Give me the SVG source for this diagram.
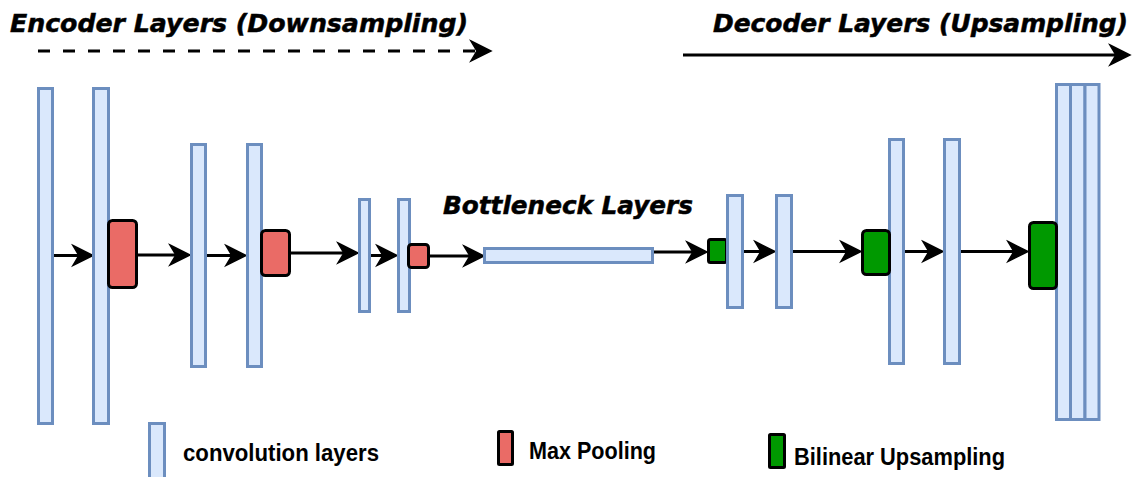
<svg xmlns="http://www.w3.org/2000/svg" width="1139" height="477" viewBox="0 0 1139 477">
<style>
.conv{fill:#dae8fc;stroke:#6c8ebf;stroke-width:3}
.pool{fill:#ea6b66;stroke:#000;stroke-width:3}
.up{fill:#009900;stroke:#000;stroke-width:3}
.edge{fill:none;stroke:#000;stroke-width:3}
.title{font-family:"DejaVu Sans",Verdana,sans-serif;font-weight:bold;font-style:italic;font-size:24px;fill:#000;stroke:#000;stroke-width:0.5}
.leg{font-family:"Liberation Sans",Arial,sans-serif;font-weight:bold;font-size:23px;fill:#000}
</style>
<defs>
<marker id="arr" markerUnits="userSpaceOnUse" viewBox="0 0 20 20" refX="6" refY="10" markerWidth="20" markerHeight="20" orient="auto" overflow="visible">
<path d="M0,0 L20,10 L0,20 L6,10 Z" fill="#000" stroke="#000" stroke-width="1.5" stroke-linejoin="miter"/>
</marker>
</defs>
<rect width="1139" height="477" fill="#fff"/>

<g id="titles">
<text class="title" x="10" y="32" textLength="458" lengthAdjust="spacingAndGlyphs">Encoder Layers (Downsampling)</text>
<text class="title" x="713" y="32" textLength="415" lengthAdjust="spacingAndGlyphs">Decoder Layers (Upsampling)</text>
<text class="title" x="443" y="214" textLength="250" lengthAdjust="spacingAndGlyphs">Bottleneck Layers</text>
</g>

<g id="connectors">
<path class="edge" d="M38,51 H477" stroke-dasharray="12 13" marker-end="url(#arr)"/>
<path class="edge" d="M683,55 H1116" marker-end="url(#arr)"/>
<path class="edge" d="M53,255.5 H79" marker-end="url(#arr)"/>
<path class="edge" d="M138,255 H176" marker-end="url(#arr)"/>
<path class="edge" d="M207,255.5 H232" marker-end="url(#arr)"/>
<path class="edge" d="M291,253 H344" marker-end="url(#arr)"/>
<path class="edge" d="M371,255.5 H383" marker-end="url(#arr)"/>
<path class="edge" d="M430,256 H470" marker-end="url(#arr)"/>
<path class="edge" d="M654,252 H693" marker-end="url(#arr)"/>
<path class="edge" d="M744,251.5 H761" marker-end="url(#arr)"/>
<path class="edge" d="M793,251.5 H847" marker-end="url(#arr)"/>
<path class="edge" d="M905,251.5 H929" marker-end="url(#arr)"/>
<path class="edge" d="M961,251.5 H1014" marker-end="url(#arr)"/>
</g>

<g id="enc-conv1"><rect class="conv" x="38.5" y="88.5" width="14" height="335"/></g>
<g id="enc-conv2"><rect class="conv" x="93.5" y="88.5" width="15" height="335"/></g>
<g id="enc-pool1"><rect class="pool" x="108.5" y="220.5" width="28" height="67" rx="4"/></g>
<g id="enc-conv3"><rect class="conv" x="191.5" y="144.5" width="14" height="222"/></g>
<g id="enc-conv4"><rect class="conv" x="247.5" y="144.5" width="14" height="222"/></g>
<g id="enc-pool2"><rect class="pool" x="261.5" y="230.5" width="28" height="45" rx="4"/></g>
<g id="enc-conv5"><rect class="conv" x="359.5" y="199.5" width="10" height="112"/></g>
<g id="enc-conv6"><rect class="conv" x="398.5" y="199.5" width="11" height="112"/></g>
<g id="enc-pool3"><rect class="pool" x="408.5" y="244.5" width="20" height="23" rx="3"/></g>

<g id="bottleneck"><rect class="conv" x="484.5" y="248.5" width="168" height="14"/></g>

<g id="dec-up1"><rect class="up" x="708.5" y="239.5" width="18" height="23" rx="2"/></g>
<g id="dec-conv1"><rect class="conv" x="727.5" y="195.5" width="15" height="112"/></g>
<g id="dec-conv2"><rect class="conv" x="776.5" y="195.5" width="15" height="112"/></g>
<g id="dec-conv3"><rect class="conv" x="889.5" y="139.5" width="14" height="224"/></g>
<g id="dec-up2"><rect class="up" x="862.5" y="230.5" width="27" height="44" rx="4"/></g>
<g id="dec-conv4"><rect class="conv" x="944.5" y="139.5" width="15" height="224"/></g>
<g id="dec-conv5"><rect class="conv" x="1056.5" y="84.5" width="14" height="335"/></g>
<g id="dec-conv6"><rect class="conv" x="1070.5" y="84.5" width="14.5" height="335"/></g>
<g id="dec-conv7"><rect class="conv" x="1085" y="84.5" width="14" height="335"/></g>
<g id="dec-up3"><rect class="up" x="1029.5" y="222.5" width="27" height="66" rx="4"/></g>

<g id="legend-conv">
<rect class="conv" x="149.5" y="423.5" width="15" height="60"/>
<text class="leg" x="183" y="461" textLength="196" lengthAdjust="spacingAndGlyphs">convolution layers</text>
</g>
<g id="legend-pool">
<rect class="pool" x="498.5" y="431.5" width="14" height="33" rx="1"/>
<text class="leg" x="529" y="459" textLength="127" lengthAdjust="spacingAndGlyphs">Max Pooling</text>
</g>
<g id="legend-up">
<rect class="up" x="769.5" y="434.5" width="15" height="33" rx="1"/>
<text class="leg" x="794" y="465" textLength="211" lengthAdjust="spacingAndGlyphs">Bilinear Upsampling</text>
</g>
</svg>
